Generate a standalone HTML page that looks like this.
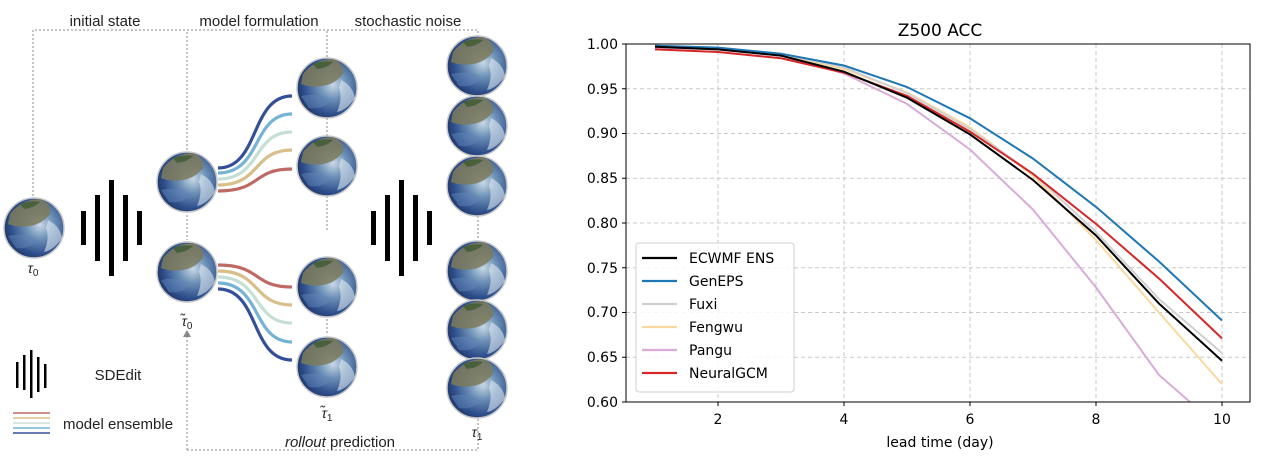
<!DOCTYPE html>
<html><head><meta charset="utf-8"><style>
html,body{margin:0;padding:0;background:#fff;}
svg{display:block;font-family:"DejaVu Sans","Liberation Sans",sans-serif;}
</style></head><body>
<svg width="1268" height="471" viewBox="0 0 1268 471" xmlns="http://www.w3.org/2000/svg">
<defs>
<radialGradient id="g" cx="0.6" cy="0.45" r="0.75">
<stop offset="0" stop-color="#c9d8e6"/>
<stop offset="0.3" stop-color="#6f93b8"/>
<stop offset="0.65" stop-color="#2e4f8c"/>
<stop offset="0.9" stop-color="#1a2a55"/>
<stop offset="1" stop-color="#2c2f38"/>
</radialGradient>
<g id="globe">
<circle r="30" fill="url(#g)" stroke="#c8c8c8" stroke-width="1.5"/>
<path d="M-24,-14 Q-12,-29 6,-29 Q18,-24 16,-14 Q8,-4 -4,-2 Q-16,0 -26,-4 Z" fill="#7d7a5a" opacity="0.85"/>
<path d="M-14,-24 Q-4,-28 6,-26 Q0,-20 -10,-19 Z" fill="#3e5a32" opacity="0.8"/>
<path d="M14,-8 Q26,-2 28,10 Q20,22 10,24 Q16,10 12,0 Z" fill="#e6eef6" opacity="0.55"/>
<path d="M-26,8 Q-10,4 4,12 Q-4,22 -18,20 Z" fill="#5f86b8" opacity="0.5"/>
</g>
</defs>
<g stroke="#888" stroke-width="1" stroke-dasharray="2,2" fill="none">
<path d="M33,200 V30 H478 V36"/>
<path d="M187,150 V30"/>
<path d="M327,57 V30"/>
<path d="M187,450 H478 V405"/>
<path d="M187,450 V336"/>
<path d="M327,118 V140 M327,196 V230 M327,315 V335"/>
<path d="M478,216 V240"/>
<path d="M187,215 V240"/>
</g>
<path d="M187,330 l-4,7 h8 z" fill="#888"/>
<g font-size="15" fill="#222" text-anchor="middle" font-family="Liberation Sans, sans-serif">
<text x="105" y="26">initial state</text>
<text x="259" y="26">model formulation</text>
<text x="408" y="26">stochastic noise</text>
<text x="118" y="380">SDEdit</text>
<text x="118" y="429">model ensemble</text>
<text x="340" y="447"><tspan font-style="italic">rollout</tspan> prediction</text>
</g>
<g font-size="14" fill="#222" font-style="italic" text-anchor="middle" font-family="Liberation Sans, sans-serif">
<text x="33" y="273">τ<tspan font-size="10" font-style="normal" dy="3">0</tspan></text>
<text x="187" y="326">τ̃<tspan font-size="10" font-style="normal" dy="3">0</tspan></text>
<text x="327" y="418">τ̃<tspan font-size="10" font-style="normal" dy="3">1</tspan></text>
<text x="477" y="437">τ<tspan font-size="10" font-style="normal" dy="3">1</tspan></text>
</g>
<g fill="#000">
<rect x="81" y="211" width="5" height="34"/><rect x="95" y="195" width="5" height="66"/><rect x="109" y="180" width="5" height="96"/><rect x="123" y="195" width="5" height="66"/><rect x="137" y="211" width="5" height="34"/>
<rect x="371" y="211" width="5" height="34"/><rect x="385" y="195" width="5" height="66"/><rect x="399" y="180" width="5" height="96"/><rect x="413" y="195" width="5" height="66"/><rect x="427" y="211" width="5" height="34"/>
<rect x="16" y="362" width="2.5" height="26"/><rect x="23" y="355" width="2.5" height="35"/><rect x="30" y="350" width="2.5" height="48"/><rect x="37" y="357" width="2.5" height="35"/><rect x="44" y="364" width="2.5" height="24"/>
</g>
<g fill="none" stroke-width="3.2">
<path d="M218,168 C260,168 250,96 292,96" stroke="#344f9a"/>
<path d="M218,173 C262,173 252,114 292,114" stroke="#74b2d6"/>
<path d="M218,179 C262,179 252,132 292,132" stroke="#c5dfd5"/>
<path d="M218,185 C262,185 252,150 292,150" stroke="#d8bf8a"/>
<path d="M218,191 C262,191 252,169 292,169" stroke="#bd6a64"/>
<path d="M218,265 C262,265 252,287 292,287" stroke="#bd6a64"/>
<path d="M218,271 C262,271 252,305 292,305" stroke="#d8bf8a"/>
<path d="M218,277 C262,277 252,323 292,323" stroke="#c5dfd5"/>
<path d="M218,283 C262,283 252,342 292,342" stroke="#74b2d6"/>
<path d="M218,289 C260,289 250,360 292,360" stroke="#344f9a"/>
</g>
<g fill="none" stroke-width="1.5">
<path d="M13,413 H50" stroke="#bd6a64"/><path d="M13,418 H50" stroke="#d8bf8a"/><path d="M13,423 H50" stroke="#c5dfd5"/><path d="M13,428 H50" stroke="#74b2d6"/><path d="M13,433 H50" stroke="#344f9a"/>
</g>
<use href="#globe" x="34" y="228"/>
<use href="#globe" x="187" y="182"/><use href="#globe" x="187" y="272"/>
<use href="#globe" x="327" y="88"/><use href="#globe" x="327" y="166"/><use href="#globe" x="327" y="287"/><use href="#globe" x="327" y="367"/>
<use href="#globe" x="477" y="66"/><use href="#globe" x="477" y="126"/><use href="#globe" x="477" y="186"/><use href="#globe" x="477" y="271"/><use href="#globe" x="477" y="330"/><use href="#globe" x="477" y="388"/>

<text x="940" y="36" font-size="17" text-anchor="middle" fill="#000">Z500 ACC</text>
<g stroke="#c8c8c8" stroke-width="1" stroke-dasharray="4,3">
<path d="M718,44V402M844,44V402M970,44V402M1096,44V402M1222,44V402"/>
<path d="M626,88.75H1250M626,133.5H1250M626,178.25H1250M626,223H1250M626,267.75H1250M626,312.5H1250M626,357.25H1250"/>
</g>
<svg x="626" y="44" width="624" height="358" viewBox="626 44 624 358" overflow="hidden">
<g fill="none" stroke-width="2">
<polyline stroke="#f9d9a0" points="655,46.7 718,48.5 781,54.7 844,69 907,92.3 970,127.2 1033,175.6 1096,240 1159,312.5 1222,384.1"/>
<polyline stroke="#d0d0d0" points="655,45.8 718,47.6 781,53.8 844,67.3 907,93.2 970,129 1033,173.8 1096,232 1159,299 1222,353"/>
<polyline stroke="#d8acd8" points="655,47.6 718,49.4 781,55.6 844,73.5 907,103.9 970,149.5 1033,209.6 1096,287.4 1159,375 1190,402"/>
<polyline stroke="#1f77b4" points="655,45.8 718,47.6 781,53.8 844,65.5 907,87 970,118.3 1033,158.6 1096,206.9 1159,261.5 1222,320.5"/>
<polyline stroke="#d62728" points="655,49.4 718,52 781,58.3 844,72.6 907,95.9 970,131.7 1033,173.8 1096,223.9 1159,278.5 1222,338.4"/>
<polyline stroke="#000" points="655,46.7 718,49.4 781,55.6 844,71.7 907,97.7 970,134.4 1033,180 1096,235.5 1159,303.6 1222,360.8"/>
</g>
</svg>
<rect x="626" y="44" width="624" height="358" fill="none" stroke="#000" stroke-width="1"/>
<g stroke="#000"><path d="M718,402v4M844,402v4M970,402v4M1096,402v4M1222,402v4"/>
<path d="M626,44h-4M626,88.75h-4M626,133.5h-4M626,178.25h-4M626,223h-4M626,267.75h-4M626,312.5h-4M626,357.25h-4M626,402h-4"/></g>
<g font-size="14" fill="#000" text-anchor="end">
<text x="618" y="49">1.00</text><text x="618" y="94">0.95</text><text x="618" y="138">0.90</text><text x="618" y="183">0.85</text><text x="618" y="228">0.80</text><text x="618" y="273">0.75</text><text x="618" y="317">0.70</text><text x="618" y="362">0.65</text><text x="618" y="407">0.60</text>
</g>
<g font-size="14" fill="#000" text-anchor="middle">
<text x="718" y="424">2</text><text x="844" y="424">4</text><text x="970" y="424">6</text><text x="1096" y="424">8</text><text x="1222" y="424">10</text>
<text x="940" y="447">lead time (day)</text>
</g>
<rect x="636" y="243" width="158" height="149" rx="3" fill="#fff" fill-opacity="0.85" stroke="#d0d0d0"/>
<g stroke-width="2.2">
<path d="M642,258h35" stroke="#000"/><path d="M642,281h35" stroke="#1f77b4"/><path d="M642,304h35" stroke="#d0d0d0"/><path d="M642,327h35" stroke="#f9d9a0"/><path d="M642,350h35" stroke="#d8acd8"/><path d="M642,373h35" stroke="#d62728"/>
</g>
<g font-size="14" fill="#000">
<text x="689" y="263">ECWMF ENS</text><text x="689" y="286">GenEPS</text><text x="689" y="309">Fuxi</text><text x="689" y="332">Fengwu</text><text x="689" y="355">Pangu</text><text x="689" y="378">NeuralGCM</text>
</g>
</svg>
</body></html>
